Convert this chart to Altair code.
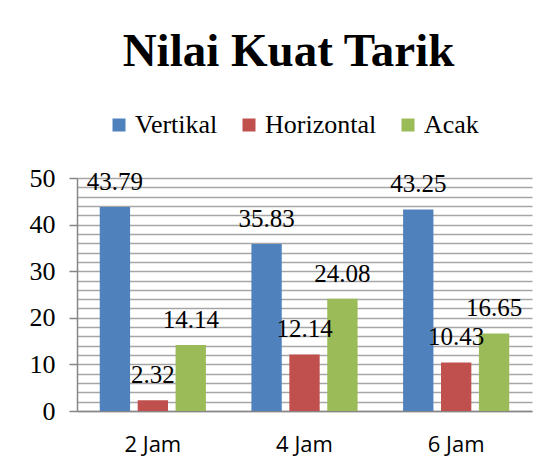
import altair as alt
import pandas as pd

categories = ["2 Jam", "4 Jam", "6 Jam"]
series = ["Vertikal", "Horizontal", "Acak"]
vertikal = [43.79, 35.83, 43.25]
horizontal = [2.32, 12.14, 10.43]
acak = [14.14, 24.08, 16.65]
colors = ["#4F81BD", "#C0504D", "#9BBB59"]
y_ticks = list(range(0, 51, 2))

rows = []
for name, vals in zip(series, [vertikal, horizontal, acak]):
    for c, v in zip(categories, vals):
        rows.append({"Waktu": c, "Seri": name, "Nilai": v})
df = pd.DataFrame(rows)

y_axis = alt.Axis(values=y_ticks, tickCount=60, labelOverlap=False,
                  labelExpr="datum.value % 10 == 0 ? datum.label : ''",
                  labelFont="Liberation Serif", labelFontSize=26,
                  labelColor="black", labelPadding=14,
                  tickSize=8,
                  tickColor={"condition": {"test": "datum.value % 10 == 0", "value": "#868686"},
                             "value": "transparent"},
                  tickWidth=1.5,
                  domainColor="#868686", domainWidth=1.5,
                  gridColor="#a6a6a6", gridWidth=1.5)
x_axis = alt.Axis(labelAngle=0, labelFont="Open Sans", labelFontSize=22,
                  labelColor="black", labelPadding=23, ticks=False,
                  domainColor="#868686", domainWidth=1.5, grid=False)

x = alt.X("Waktu:N", sort=categories, title=None,
          scale=alt.Scale(paddingInner=0.3, paddingOuter=0.15), axis=x_axis)
xo = alt.XOffset("Seri:N", sort=series,
                 scale=alt.Scale(paddingInner=0.2, paddingOuter=0))
y = alt.Y("Nilai:Q", title=None,
          scale=alt.Scale(domain=[0, 50], nice=False), axis=y_axis)

bars = alt.Chart(df).mark_bar().encode(
    x=x, xOffset=xo, y=y,
    color=alt.Color("Seri:N", sort=series,
                    scale=alt.Scale(domain=series, range=colors),
                    legend=alt.Legend(title=None, orient="none", direction="horizontal",
                                      legendX=29, legendY=-66,
                                      symbolType="square", symbolSize=169,
                                      symbolStrokeWidth=0, symbolOpacity=1,
                                      labelFont="Liberation Serif", labelFontSize=26,
                                      labelColor="black", labelOffset=3,
                                      columnPadding=18)),
)

labels = alt.Chart(df).mark_text(
    font="Liberation Serif", fontSize=25, color="black", baseline="middle", dy=-25
).encode(
    x=x, xOffset=xo, y=y,
    text=alt.Text("Nilai:Q", format=".2f")
)

chart = alt.layer(bars, labels).properties(
    width=455, height=233,
    title=alt.TitleParams("Nilai Kuat Tarik", font="Liberation Serif", fontSize=47,
                          fontWeight="bold", color="black", anchor="middle",
                          frame="group", dx=-16, offset=36),
    autosize=alt.AutoSizeParams(type="none"),
    padding={"left": 69, "top": 170, "right": 12, "bottom": 57},
).configure_view(strokeWidth=0).configure_axisY(
    labelFont="Liberation Serif", labelFontSize=26
).configure_axisX(labelFont="Open Sans", labelFontSize=22)

chart.save("out.html", embed_options={"renderer": "svg", "actions": False})
